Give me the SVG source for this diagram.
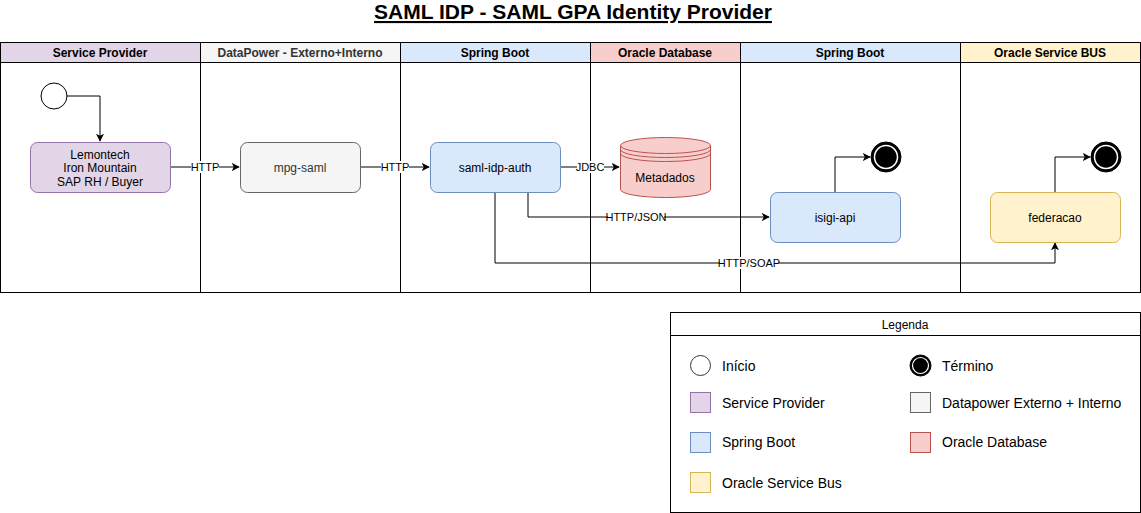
<svg xmlns="http://www.w3.org/2000/svg" width="1141" height="513" viewBox="0 0 1141 513">
<defs>
<marker id="arr" viewBox="0 0 10 10" refX="9" refY="5" markerWidth="8" markerHeight="8" markerUnits="userSpaceOnUse" orient="auto"><path d="M0,0 L10,5 L0,10 L2.5,5 Z" fill="#000"/></marker>
</defs>
<style>
text{font-family:"Liberation Sans",Arial,Helvetica,sans-serif;fill:#000}
.t{font-size:12px;text-anchor:middle}
.h{font-size:12px;font-weight:bold;text-anchor:middle}
.el{font-size:11px;text-anchor:middle}
.lg{font-size:14px}
.lane{fill:none;stroke:#000;stroke-width:1}
.edge{fill:none;stroke:#000;stroke-width:1}
.lbg{fill:#fff}
.purple{fill:#e1d5e7;stroke:#9673a6}
.gray{fill:#f5f5f5;stroke:#666666}
.blue{fill:#dae8fc;stroke:#6c8ebf}
.red{fill:#f8cecc;stroke:#b85450}
.yellow{fill:#fff2cc;stroke:#d6b656}
</style>
<rect width="1141" height="513" fill="#fff"/>
<text x="573" y="19" style="font-size:21px;font-weight:bold;text-anchor:middle;text-decoration:underline">SAML IDP - SAML GPA Identity Provider</text>
<g id="pool">
<rect x="0.5" y="42.5" width="200" height="20" fill="#e1d5e7"/>
<rect x="200.5" y="42.5" width="200" height="20" fill="#f5f5f5"/>
<rect x="400.5" y="42.5" width="190" height="20" fill="#dae8fc"/>
<rect x="590.5" y="42.5" width="150" height="20" fill="#f8cecc"/>
<rect x="740.5" y="42.5" width="220" height="20" fill="#dae8fc"/>
<rect x="960.5" y="42.5" width="180" height="20" fill="#fff2cc"/>
<rect class="lane" x="0.5" y="42.5" width="1140" height="250"/>
<line class="lane" x1="0.5" y1="62.5" x2="1140.5" y2="62.5"/>
<line class="lane" x1="200.5" y1="42.5" x2="200.5" y2="292.5"/>
<line class="lane" x1="400.5" y1="42.5" x2="400.5" y2="292.5"/>
<line class="lane" x1="590.5" y1="42.5" x2="590.5" y2="292.5"/>
<line class="lane" x1="740.5" y1="42.5" x2="740.5" y2="292.5"/>
<line class="lane" x1="960.5" y1="42.5" x2="960.5" y2="292.5"/>
<text class="h" x="100" y="57">Service Provider</text>
<text class="t" x="300" y="57" style="font-weight:bold;fill:#333">DataPower - Externo+Interno</text>
<text class="h" x="495" y="57">Spring Boot</text>
<text class="h" x="665" y="57">Oracle Database</text>
<text class="h" x="850" y="57">Spring Boot</text>
<text class="h" x="1050" y="57">Oracle Service BUS</text>
</g>
<g id="connectors">
<path class="edge" d="M67,96 H100 V141" marker-end="url(#arr)"/>
<path class="edge" d="M170,167 H239" marker-end="url(#arr)"/>
<rect class="lbg" x="191" y="161" width="28" height="12"/>
<text class="el" x="205" y="171">HTTP</text>
<path class="edge" d="M360,167 H429" marker-end="url(#arr)"/>
<rect class="lbg" x="381" y="161" width="28" height="12"/>
<text class="el" x="395" y="171">HTTP</text>
<path class="edge" d="M560,167 H619" marker-end="url(#arr)"/>
<rect class="lbg" x="577" y="161" width="27" height="12"/>
<text class="el" x="590" y="171">JDBC</text>
<path class="edge" d="M528,192 V217 H769" marker-end="url(#arr)"/>
<rect class="lbg" x="608" y="211" width="56" height="12"/>
<text class="el" x="636" y="221">HTTP/JSON</text>
<path class="edge" d="M495,192 V263 H1055 V243" marker-end="url(#arr)"/>
<rect class="lbg" x="720" y="257" width="58" height="12"/>
<text class="el" x="749" y="267">HTTP/SOAP</text>
<path class="edge" d="M835,192 V157 H870" marker-end="url(#arr)"/>
<path class="edge" d="M1055,192 V157 H1090" marker-end="url(#arr)"/>
</g>
<g id="start"><circle cx="54" cy="96" r="13" fill="#fff" stroke="#000"/></g>
<g id="lemontech">
<rect class="purple" x="30.5" y="142.5" width="140" height="50" rx="7"/>
<text class="t" x="100" y="159">Lemontech</text>
<text class="t" x="100" y="172">Iron Mountain</text>
<text class="t" x="100" y="186">SAP RH / Buyer</text>
</g>
<g id="mpg-saml">
<rect class="gray" x="240.5" y="142.5" width="120" height="50" rx="7"/>
<text class="t" x="300" y="172" style="fill:#333">mpg-saml</text>
</g>
<g id="saml-idp-auth">
<rect class="blue" x="430.5" y="142.5" width="130" height="50" rx="7"/>
<text class="t" x="495" y="172">saml-idp-auth</text>
</g>
<g id="metadados">
<path class="red" d="M620.5,145.5 A45,8 0 0 1 710.5,145.5 V189.5 A45,8 0 0 1 620.5,189.5 Z"/>
<path d="M620.5,145.5 A45,8 0 0 0 710.5,145.5 M620.5,149.5 A45,8 0 0 0 710.5,149.5 M620.5,153.5 A45,8 0 0 0 710.5,153.5" fill="none" stroke="#b85450"/>
<text class="t" x="665" y="182">Metadados</text>
</g>
<g id="isigi-api">
<rect class="blue" x="770.5" y="192.5" width="130" height="50" rx="7"/>
<text class="t" x="835" y="222">isigi-api</text>
</g>
<g id="end1">
<circle cx="886" cy="157" r="15" fill="#000" stroke="#000"/>
<circle cx="886" cy="157" r="11.5" fill="#000" stroke="#fff" stroke-width="1.5"/>
</g>
<g id="federacao">
<rect class="yellow" x="990.5" y="192.5" width="130" height="50" rx="7"/>
<text class="t" x="1055" y="222">federacao</text>
</g>
<g id="end2">
<circle cx="1106" cy="157" r="15" fill="#000" stroke="#000"/>
<circle cx="1106" cy="157" r="11.5" fill="#000" stroke="#fff" stroke-width="1.5"/>
</g>
<g id="legend">
<rect x="670.5" y="312.5" width="470" height="200" fill="#fff" stroke="#000"/>
<line x1="670.5" y1="335.5" x2="1140.5" y2="335.5" stroke="#000"/>
<text class="t" x="905" y="329">Legenda</text>
<circle cx="700.5" cy="365.5" r="10" fill="#fff" stroke="#333"/>
<text class="lg" x="722" y="371">Início</text>
<circle cx="920.5" cy="365.5" r="10.5" fill="#000" stroke="#000"/>
<circle cx="920.5" cy="365.5" r="8" fill="#000" stroke="#fff" stroke-width="1.2"/>
<text class="lg" x="942" y="371">Término</text>
<rect class="purple" x="690.5" y="392.5" width="20" height="20"/>
<text class="lg" x="722" y="408">Service Provider</text>
<rect class="gray" x="910.5" y="392.5" width="20" height="20"/>
<text class="lg" x="942" y="408">Datapower Externo + Interno</text>
<rect class="blue" x="690.5" y="432.5" width="20" height="20"/>
<text class="lg" x="722" y="447">Spring Boot</text>
<rect class="red" x="910.5" y="432.5" width="20" height="20"/>
<text class="lg" x="942" y="447">Oracle Database</text>
<rect class="yellow" x="690.5" y="472.5" width="20" height="20"/>
<text class="lg" x="722" y="488">Oracle Service Bus</text>
</g>
</svg>
